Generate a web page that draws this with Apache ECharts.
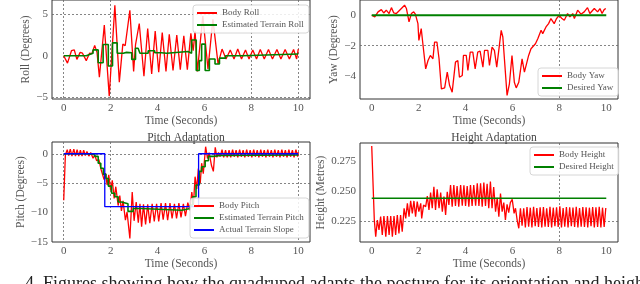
<!DOCTYPE html>
<html><head><meta charset="utf-8">
<script src="https://cdn.jsdelivr.net/npm/echarts@6/dist/echarts.min.js"></script>
<style>html,body{margin:0;padding:0;background:#fff;overflow:hidden}#c{width:640px;height:284px}</style>
</head><body><div id="c"></div>
<script>
// ---- tick labels ----
const timeTicks = [0, 2, 4, 6, 8, 10];
const rollTicks = [-5, 0, 5];
const yawTicks = [-4, -2, 0];
const pitchTicks = [-15, -10, -5, 0];
const heightTicks = [0.225, 0.250, 0.275];

// ---- series values [time (s), value] ----
const bodyRoll = [[0,0],[0.16,-0.9],[0.33,0.6],[0.45,0.7],[0.56,-0.45],[0.7,0.4],[0.8,0.3],[0.96,-0.6],[1.1,0.3],[1.2,0.25],[1.32,1.25],[1.42,0.4],[1.52,-2.6],[1.73,3.7],[1.94,-4.9],[2.18,6.1],[2.37,-3.2],[2.52,1.4],[2.62,1.2],[2.82,5.5],[2.98,-1.9],[3.06,1.3],[3.14,1.2],[3.22,3.9],[3.42,-2.5],[3.58,3.3],[3.75,-2.2],[3.9,3.0],[4.05,-2.0],[4.2,2.8],[4.36,-1.9],[4.5,2.6],[4.66,-1.8],[4.82,2.5],[4.97,-1.7],[5.12,2.4],[5.27,-1.7],[5.42,2.7],[5.52,0.6],[5.6,3.0],[5.7,-1.9],[5.93,4.8],[6.15,-1.6],[6.36,4.4],[6.58,-1.0],[6.75,0.8],[6.92,-0.4],[7.1,0.7],[7.26,-0.4],[7.42,0.8],[7.58,-0.4],[7.75,0.7],[7.9,-0.4],[8.06,0.7],[8.22,-0.4],[8.38,0.75],[8.55,-0.4],[8.73,0.75],[8.9,-0.4],[9.09,0.75],[9.26,-0.4],[9.44,0.75],[9.62,-0.4],[9.8,0.75],[9.93,-0.4],[10,0.8]];
const estRoll = [[0,0],[0.96,0.15],[1.1,0.3],[1.25,0.7],[1.47,-0.85],[1.68,1.35],[1.9,-1.25],[2.08,1.55],[2.28,0.3],[2.54,0.4],[2.68,0.35],[2.9,-0.45],[3.06,0.9],[3.17,0.7],[3.25,0.3],[3.6,0.6],[3.88,0.35],[4.15,0.3],[4.4,0.5],[5.3,0.3],[5.45,1.9],[5.65,-1.8],[5.78,-0.6],[5.88,1.4],[6.03,-1.8],[6.21,-0.4],[6.45,-1.0],[6.64,-0.3],[6.9,0],[7.6,0.2],[10,0.2]];
const bodyYaw = [[0,0],[0.13,-0.11],[0.27,0.22],[0.41,0.37],[0.51,0.15],[0.62,0.33],[0.74,0.11],[0.84,0.5],[0.94,0.15],[1.05,0.11],[1.19,0.33],[1.4,0.66],[1.48,0.44],[1.59,-0.44],[1.69,0.11],[1.79,0.22],[1.86,0.07],[1.97,-0.55],[2.01,-1.65],[2.11,-0.88],[2.18,-1.87],[2.3,-3.52],[2.4,-2.97],[2.5,-2.64],[2.61,-2.86],[2.68,-1.76],[2.78,-1.76],[2.87,-2.86],[2.97,-4.84],[3.11,-4.77],[3.22,-3.74],[3.32,-4.62],[3.43,-5.05],[3.57,-3.08],[3.67,-2.97],[3.74,-4.07],[3.86,-3.96],[3.91,-2.64],[4.03,-2.64],[4.1,-3.63],[4.2,-2.42],[4.31,-2.42],[4.41,-3.52],[4.52,-2.42],[4.62,-2.35],[4.74,-3.41],[4.81,-2.31],[4.95,-2.31],[5.02,-3.3],[5.13,-2.09],[5.23,-2.31],[5.33,-3.41],[5.52,-0.99],[5.59,-1.43],[5.77,-5.27],[5.87,-4.5],[5.98,-2.64],[6.08,-4.4],[6.16,-4.77],[6.27,-4.4],[6.41,-2.86],[6.51,-3.74],[6.58,-3.85],[6.69,-2.64],[6.79,-2.2],[6.87,-2.31],[6.98,-1.87],[7.08,-1.54],[7.22,-0.99],[7.29,-1.21],[7.43,-0.77],[7.54,-0.55],[7.64,-0.22],[7.78,-0.55],[7.88,-0.22],[7.99,0],[8.11,-0.22],[8.21,-0.33],[8.35,0.11],[8.45,-0.11],[8.57,0.11],[8.64,-0.22],[8.78,0.33],[8.92,0.07],[9.06,0.22],[9.2,0.5],[9.3,0.11],[9.49,0.44],[9.63,0.22],[9.73,0.44],[9.82,0.11],[9.91,0.37],[9.98,0.44]];
const desiredYaw = [[0,0],[10,0]];
const bodyPitch = [[0,-7.9],[0.07,-0.2],[0.15,0.7],[0.21,-0.3],[0.28,0.8],[0.35,-0.4],[0.43,0.8],[0.5,-0.4],[0.57,0.7],[0.64,-0.4],[0.71,0.6],[0.78,-0.4],[0.85,0.6],[0.92,-0.3],[0.99,0.4],[1.07,-0.4],[1.15,0.2],[1.25,-0.75],[1.32,-0.2],[1.4,-1.15],[1.5,-1.0],[1.58,-2.5],[1.65,-2.2],[1.72,-4.4],[1.78,-3.3],[1.85,-5.3],[1.92,-3.6],[2.0,-6.2],[2.07,-4.5],[2.15,-7.6],[2.22,-5.6],[2.32,-8.8],[2.39,-7.1],[2.46,-9.7],[2.53,-8.0],[2.63,-11.3],[2.7,-9.9],[2.82,-14.4],[2.92,-6.5],[3.0,-11.4],[3.09,-8.2],[3.18,-11.7],[3.25,-8.5],[3.32,-12.4],[3.4,-8.6],[3.49,-12.0],[3.58,-8.6],[3.67,-11.8],[3.77,-8.5],[3.86,-11.5],[3.96,-8.5],[4.05,-11.5],[4.15,-8.4],[4.24,-11.2],[4.34,-8.4],[4.43,-11.3],[4.53,-8.4],[4.62,-11.0],[4.72,-8.5],[4.81,-11.0],[4.91,-8.4],[5.0,-10.8],[5.1,-8.5],[5.19,-10.6],[5.29,-8.3],[5.38,-9.6],[5.46,-6.5],[5.53,-8.7],[5.6,-3.9],[5.67,-6.0],[5.74,-2.5],[5.82,-5.0],[5.88,-1.6],[5.95,-3.4],[6.05,1.2],[6.13,-0.8],[6.2,0.2],[6.3,-2.0],[6.38,-3.0],[6.46,1.1],[6.53,-0.6],[6.6,0.2],[6.67,-0.5],[6.75,0.7],[6.82,-0.6],[6.9,0.6],[6.97,-0.6],[7.05,0.6],[7.12,-0.6],[7.2,0.7],[7.27,-0.5],[7.35,0.6],[7.42,-0.6],[7.5,0.7],[7.57,-0.5],[7.65,0.6],[7.72,-0.6],[7.8,0.7],[7.87,-0.5],[7.95,0.6],[8.02,-0.6],[8.1,0.7],[8.17,-0.5],[8.25,0.6],[8.32,-0.6],[8.4,0.7],[8.47,-0.5],[8.55,0.6],[8.62,-0.6],[8.7,0.7],[8.77,-0.5],[8.85,0.6],[8.92,-0.6],[9.0,0.7],[9.07,-0.5],[9.15,0.6],[9.22,-0.6],[9.3,0.7],[9.37,-0.5],[9.45,0.6],[9.52,-0.6],[9.6,0.7],[9.67,-0.5],[9.75,0.6],[9.82,-0.6],[9.9,0.7],[9.97,-0.5],[10,0.3]];
const estPitch = [[0,0],[0.9,-0.1],[1.32,-0.45],[1.47,-1.6],[1.58,-2.45],[1.69,-3.5],[1.8,-4.2],[1.9,-5.5],[2.04,-6.7],[2.18,-7.3],[2.32,-8.2],[2.46,-8.5],[2.74,-9.8],[2.96,-9.3],[3.31,-9.6],[5.03,-9.3],[5.4,-8.7],[5.5,-7.3],[5.64,-5.3],[5.78,-3.0],[5.88,-2.2],[6.03,-1.2],[6.17,-0.45],[6.38,-0.3],[6.67,-0.2],[10,-0.2]];
const terrainSlope = [[0,0],[1.75,-9],[5.75,0],[10,0]];
const bodyHeight = [[0,0.2875],[0.11,0.2258],[0.17,0.2119],[0.24,0.2258],[0.31,0.2175],[0.38,0.2286],[0.45,0.2133],[0.52,0.2292],[0.6,0.2119],[0.67,0.2292],[0.74,0.2133],[0.81,0.2292],[0.88,0.2119],[0.95,0.2292],[1.02,0.2133],[1.09,0.23],[1.16,0.2147],[1.23,0.23],[1.3,0.2161],[1.38,0.2356],[1.45,0.2272],[1.52,0.2397],[1.59,0.2286],[1.66,0.2419],[1.73,0.2314],[1.8,0.2417],[1.87,0.2286],[1.94,0.2411],[2.01,0.2328],[2.09,0.2397],[2.13,0.2272],[2.21,0.2383],[2.3,0.2369],[2.37,0.2458],[2.44,0.2342],[2.51,0.2486],[2.58,0.2356],[2.65,0.2536],[2.72,0.2342],[2.79,0.2514],[2.87,0.2356],[2.94,0.2486],[3.01,0.2328],[3.08,0.2453],[3.15,0.23],[3.22,0.2494],[3.29,0.2383],[3.36,0.255],[3.43,0.237],[3.5,0.255],[3.57,0.2375],[3.64,0.2542],[3.71,0.237],[3.79,0.255],[3.86,0.2378],[3.93,0.2547],[4.0,0.2375],[4.07,0.2542],[4.14,0.237],[4.21,0.255],[4.28,0.2375],[4.35,0.255],[4.43,0.2378],[4.5,0.2564],[4.57,0.2375],[4.64,0.2564],[4.71,0.237],[4.78,0.257],[4.85,0.2375],[4.92,0.256],[4.99,0.2356],[5.06,0.2578],[5.13,0.2356],[5.2,0.2533],[5.28,0.2328],[5.35,0.2444],[5.42,0.2286],[5.49,0.2478],[5.56,0.2328],[5.63,0.2403],[5.7,0.2258],[5.77,0.2389],[5.84,0.2319],[5.91,0.2403],[5.99,0.243],[6.07,0.2314],[6.13,0.2356],[6.2,0.2258],[6.27,0.2189],[6.34,0.2356],[6.41,0.2211],[6.48,0.2356],[6.55,0.2197],[6.62,0.2367],[6.69,0.2203],[6.76,0.2361],[6.83,0.2197],[6.9,0.2369],[6.97,0.2206],[7.04,0.2358],[7.11,0.22],[7.18,0.2364],[7.25,0.2197],[7.32,0.2367],[7.39,0.2203],[7.46,0.2356],[7.53,0.22],[7.6,0.2369],[7.67,0.2197],[7.74,0.2361],[7.81,0.2206],[7.88,0.2364],[7.95,0.22],[8.02,0.2372],[8.09,0.2197],[8.16,0.2358],[8.23,0.2203],[8.3,0.2367],[8.37,0.2197],[8.44,0.2364],[8.51,0.2206],[8.58,0.2361],[8.65,0.22],[8.72,0.2369],[8.79,0.2197],[8.86,0.2358],[8.93,0.2203],[9.0,0.2367],[9.07,0.22],[9.14,0.2364],[9.21,0.2197],[9.28,0.2361],[9.35,0.2206],[9.42,0.2367],[9.49,0.2197],[9.56,0.2364],[9.63,0.22],[9.7,0.2369],[9.77,0.2197],[9.84,0.2361],[9.91,0.22],[9.98,0.2358]];
const desiredHeight = [[0,0.244],[10,0.244]];

// ---- which gridlines show in the picture ----
const rollGridX = [0, 2, 8, 10], rollGridY = [-5, 5];
const yawGridX = [8], yawGridY = [-2];
const pitchGridX = [0, 2, 10], pitchGridY = [0, -5];
const heightGridX = [8], heightGridY = [0.225];

const FONT = '"Liberation Serif", "DejaVu Serif", serif';
const GRIDC = '#666';
const CLEAR = 'rgba(0,0,0,0)';
const near = (a, b) => Math.abs(a - b) < 1e-7;
const minus = s => s.replace('-', '\u2212');

function gridColors(min, max, step, visible) {
  const n = Math.round((max - min) / step) + 1, out = [];
  for (let i = 0; i < n; i++) {
    const v = min + i * step;
    out.push(visible.some(g => near(g, v)) ? GRIDC : CLEAR);
  }
  return out;
}
function makeX(gi, visible, gap) {
  const min = -0.5, max = 10.5, step = 0.5;
  return {
    type: 'value', gridIndex: gi, min, max, interval: step,
    axisLine: { show: false }, axisTick: { show: false },
    splitLine: { show: true, lineStyle: { color: gridColors(min, max, step, visible), width: 0.8, type: [2, 2] } },
    axisLabel: { color: '#555', fontFamily: FONT, fontSize: 11, margin: 4,
      formatter: v => { const t = timeTicks.find(k => near(k, v)); return t === undefined ? '' : String(t); } },
    name: 'Time (Seconds)', nameLocation: 'middle', nameGap: gap,
    nameTextStyle: { color: '#555', fontFamily: FONT, fontSize: 11.5 }
  };
}
function makeY(gi, min, max, step, ticks, visible, name, gap, dec) {
  return {
    type: 'value', gridIndex: gi, min, max, interval: step,
    axisLine: { show: false }, axisTick: { show: false },
    splitLine: { show: true, lineStyle: { color: gridColors(min, max, step, visible), width: 0.8, type: [2, 2] } },
    axisLabel: { color: '#555', fontFamily: FONT, fontSize: 11, margin: 4,
      formatter: v => { const t = ticks.find(k => near(k, v)); return t === undefined ? '' : minus(t.toFixed(dec)); } },
    name, nameLocation: 'middle', nameGap: gap,
    nameTextStyle: { color: '#555', fontFamily: FONT, fontSize: 11.5 }
  };
}
function line(name, data, color, xi, width, step) {
  return { name, type: 'line', data, xAxisIndex: xi, yAxisIndex: xi, showSymbol: false, symbol: 'none',
    step: step || false, lineStyle: { color, width }, itemStyle: { color }, animation: false };
}
const legendBase = {
  orient: 'vertical', icon: 'rect', itemWidth: 20, itemHeight: 2, itemGap: 2, padding: [3, 5, 3, 4],
  backgroundColor: 'rgba(255,255,255,0.85)', borderColor: '#ccc', borderWidth: 0.8, borderRadius: 3,
  selectedMode: false, textStyle: { fontFamily: FONT, fontSize: 9, color: '#555', lineHeight: 10 }
};
const RED = '#ff0000', GREEN = '#008000', BLUE = '#0000ff';
const frame = { show: true, borderColor: '#333', borderWidth: 1, backgroundColor: CLEAR };

const chart = echarts.init(document.getElementById('c'), null, { renderer: 'canvas' });
chart.setOption({
  animation: false,
  title: [
    { text: 'Pitch Adaptation', left: 181, top: 127, textAlign: 'center',
      textStyle: { fontFamily: FONT, fontSize: 11.5, fontWeight: 'normal', color: '#444' } },
    { text: 'Height Adaptation', left: 489, top: 127, textAlign: 'center',
      textStyle: { fontFamily: FONT, fontSize: 11.5, fontWeight: 'normal', color: '#444' } }
  ],
  grid: [
    Object.assign({ left: 52, top: 0, width: 258, height: 99 }, frame),
    Object.assign({ left: 360, top: 0, width: 258, height: 99 }, frame),
    Object.assign({ left: 52, top: 142, width: 258, height: 100 }, frame),
    Object.assign({ left: 360, top: 143, width: 258, height: 99 }, frame)
  ],
  xAxis: [makeX(0, rollGridX, 14), makeX(1, yawGridX, 14), makeX(2, pitchGridX, 13), makeX(3, heightGridX, 13)],
  yAxis: [
    makeY(0, -5.25, 6.75, 0.25, rollTicks, rollGridY, 'Roll (Degrees)', 17, 0),
    makeY(1, -5.5, 1.0, 0.5, yawTicks, yawGridY, 'Yaw (Degrees)', 18, 0),
    makeY(2, -15, 2, 1, pitchTicks, pitchGridY, 'Pitch (Degrees)', 23, 0),
    makeY(3, 0.2075, 0.29, 0.0025, heightTicks, heightGridY, 'Height (Metres)', 27, 3)
  ],
  legend: [
    Object.assign({ data: ['Body Roll', 'Estimated Terrain Roll'], left: 193, top: 5 }, legendBase),
    Object.assign({ data: ['Body Yaw', 'Desired Yaw'], left: 538, top: 68 }, legendBase),
    Object.assign({ data: ['Body Pitch', 'Estimated Terrain Pitch', 'Actual Terrain Slope'], left: 190, top: 198 }, legendBase),
    Object.assign({ data: ['Body Height', 'Desired Height'], left: 530, top: 147 }, legendBase)
  ],
  series: [
    line('Body Roll', bodyRoll, RED, 0, 1.3),
    line('Estimated Terrain Roll', estRoll, GREEN, 0, 1.6, 'end'),
    line('Body Yaw', bodyYaw, RED, 1, 1.3),
    line('Desired Yaw', desiredYaw, GREEN, 1, 1.8),
    line('Body Pitch', bodyPitch, RED, 2, 1.3),
    line('Estimated Terrain Pitch', estPitch, GREEN, 2, 1.6, 'end'),
    line('Actual Terrain Slope', terrainSlope, BLUE, 2, 1.3, 'end'),
    line('Body Height', bodyHeight, RED, 3, 1.3),
    line('Desired Height', desiredHeight, GREEN, 3, 1.6)
  ],
  graphic: [
    { type: 'text', left: 25, top: 275, silent: true,
      style: { text: '4. Figures showing how the quadruped adapts the posture for its orientation and height to that',
        font: '18px "Liberation Serif", serif', fill: '#222' } }
  ]
});
</script></body></html>
